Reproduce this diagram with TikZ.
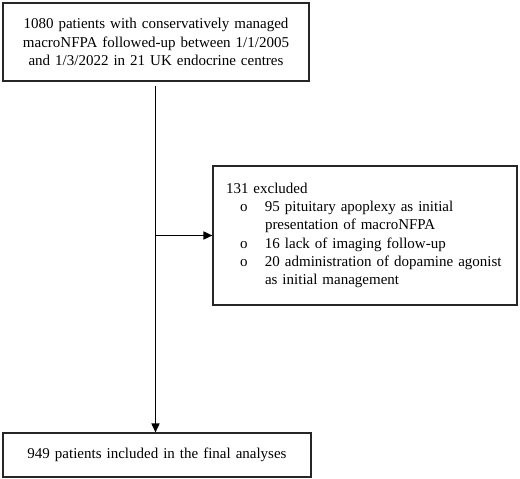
\documentclass[tikz,border=0pt]{standalone}
\usepackage{fontspec}
\setmainfont{Liberation Serif}
\usetikzlibrary{arrows.meta}
\begin{document}
\begin{tikzpicture}[x=1pt,y=-1pt,
  boxnode/.style={draw=black!85,line width=1.1pt,inner sep=0pt,
    font=\fontsize{15}{18.3}\selectfont},
  flowarrow/.style={draw=black,line width=1.6pt,-{Triangle[length=9pt,width=8pt]}}]
\useasboundingbox (0,0) rectangle (520,479);
\node[boxnode,minimum width=306pt,minimum height=78pt,text width=300pt,align=center]
  (top) at (156,42) {1080 patients with conservatively managed\\macroNFPA followed-up between 1/1/2005\\and 1/3/2022 in 21 UK endocrine centres};
\node[boxnode,minimum width=304pt,minimum height=139pt,text width=278pt,inner xsep=13pt,align=left]
  (excl) at (365,235.5) {131 excluded\\
  \hspace*{14pt}\makebox[25pt][l]{o}95 pituitary apoplexy as initial\\
  \hspace*{39pt}presentation of macroNFPA\\
  \hspace*{14pt}\makebox[25pt][l]{o}16 lack of imaging follow-up\\
  \hspace*{14pt}\makebox[25pt][l]{o}20 administration of dopamine agonist\\
  \hspace*{39pt}as initial management};
\node[boxnode,minimum width=308pt,minimum height=44pt,text width=302pt,align=center]
  (final) at (157,455) {949 patients included in the final analyses};
\coordinate (vstart) at (155.5,86);
\coordinate (hj) at (vstart |- excl.west);
\draw[flowarrow] (vstart) -- (vstart |- final.north);
\draw[flowarrow] (hj) -- (excl.west);
\end{tikzpicture}
\end{document}
